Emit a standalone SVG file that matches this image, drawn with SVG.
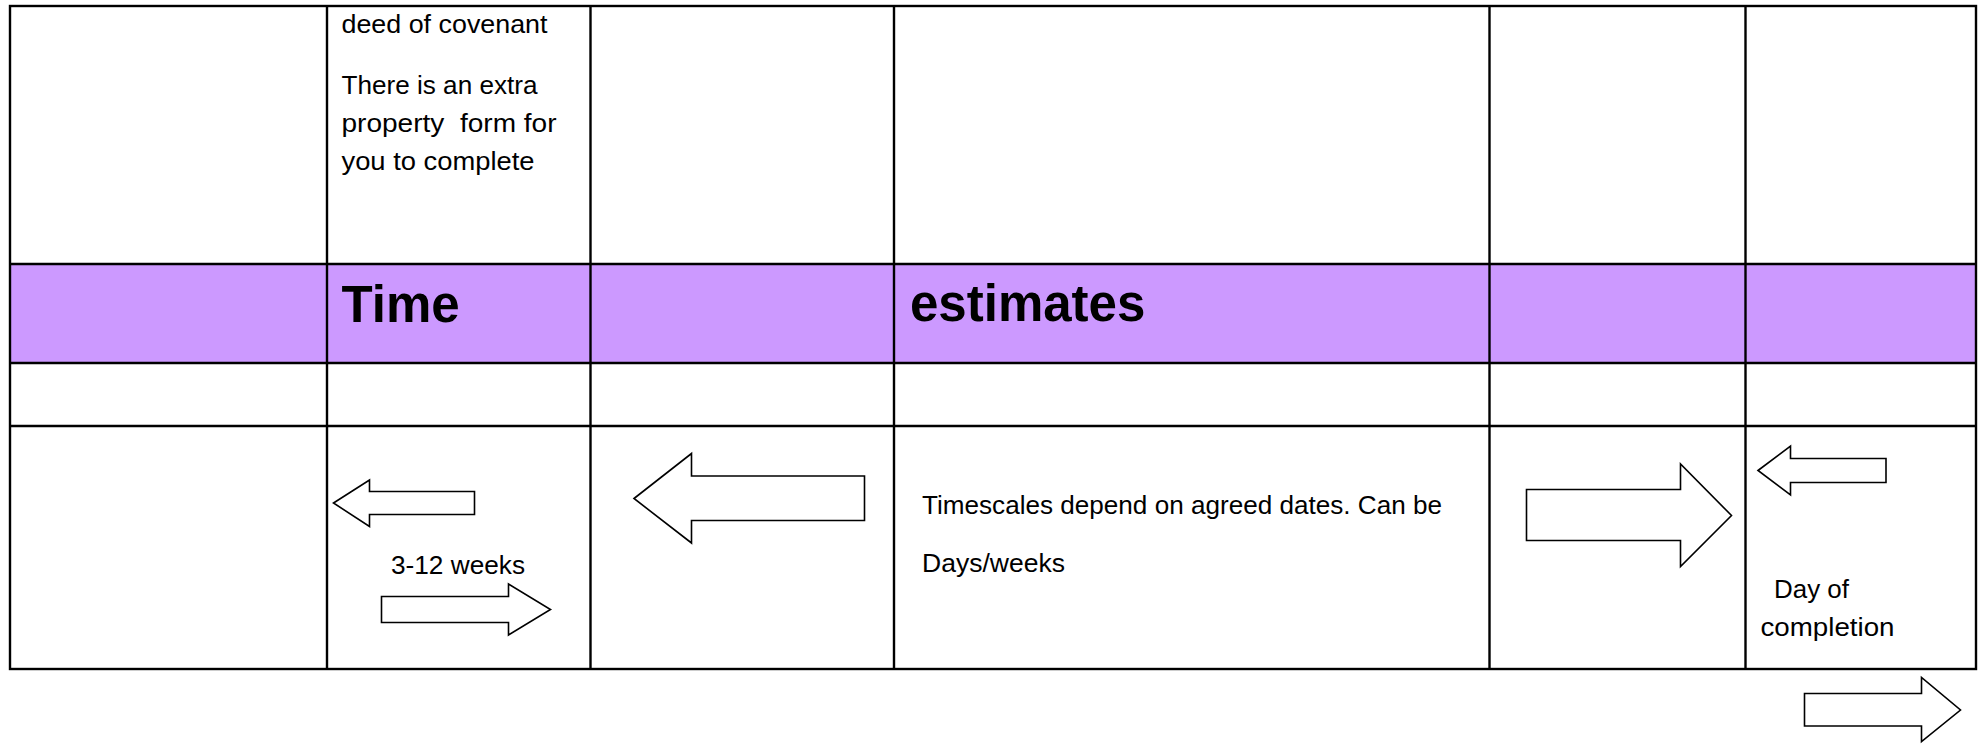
<svg xmlns="http://www.w3.org/2000/svg" width="1986" height="744" viewBox="0 0 1986 744">
<style>
.grid{stroke:#000;stroke-width:2.4;fill:none}
.band{fill:#CC99FF}
.txt{font-family:"Liberation Sans",Arial,sans-serif;font-size:25.5px;fill:#000}
.big{font-family:"Liberation Sans",Arial,sans-serif;font-size:51px;font-weight:bold;fill:#000}
.arrow{fill:#fff;stroke:#000;stroke-width:1.6;stroke-linejoin:miter}
</style>
<rect x="0" y="0" width="1986" height="744" fill="#fff"/>
<g id="table">
<rect class="band" x="10" y="264" width="1966" height="99"/>
<rect class="grid" x="10" y="6" width="1966" height="663"/>
<line class="grid" x1="10" y1="264" x2="1976" y2="264"/>
<line class="grid" x1="10" y1="363" x2="1976" y2="363"/>
<line class="grid" x1="10" y1="426" x2="1976" y2="426"/>
<line class="grid" x1="327" y1="6" x2="327" y2="669"/>
<line class="grid" x1="590.5" y1="6" x2="590.5" y2="669"/>
<line class="grid" x1="894" y1="6" x2="894" y2="669"/>
<line class="grid" x1="1489.5" y1="6" x2="1489.5" y2="669"/>
<line class="grid" x1="1745.5" y1="6" x2="1745.5" y2="669"/>
</g>
<g id="cell-notes">
<text class="txt" x="341.5" y="33" textLength="206" lengthAdjust="spacingAndGlyphs">deed of covenant</text>
<text class="txt" x="341.5" y="94" textLength="196" lengthAdjust="spacingAndGlyphs">There is an extra</text>
<text class="txt" x="341.5" y="132" xml:space="preserve" textLength="215" lengthAdjust="spacingAndGlyphs">property  form for</text>
<text class="txt" x="341.5" y="170" textLength="193" lengthAdjust="spacingAndGlyphs">you to complete</text>
</g>
<g id="heading">
<text class="big" x="341.5" y="322">Time</text>
<text class="big" x="910" y="321">estimates</text>
</g>
<g id="cell-weeks">
<text class="txt" x="391" y="574" textLength="134" lengthAdjust="spacingAndGlyphs">3-12 weeks</text>
</g>
<g id="cell-timescales">
<text class="txt" x="922" y="514" textLength="520" lengthAdjust="spacingAndGlyphs">Timescales depend on agreed dates. Can be</text>
<text class="txt" x="922" y="572" textLength="143" lengthAdjust="spacingAndGlyphs">Days/weeks</text>
</g>
<g id="cell-completion">
<text class="txt" x="1774" y="598" textLength="75" lengthAdjust="spacingAndGlyphs">Day of</text>
<text class="txt" x="1760.5" y="636" textLength="134" lengthAdjust="spacingAndGlyphs">completion</text>
</g>
<g id="connectors">
<polygon class="arrow" points="333.5,503 369.5,480 369.5,491.5 474.5,491.5 474.5,514.5 369.5,514.5 369.5,526.5"/>
<polygon class="arrow" points="381.5,596.5 508.5,596.5 508.5,584 550.5,609.5 508.5,635 508.5,622.5 381.5,622.5"/>
<polygon class="arrow" points="634,498.5 691.5,453.5 691.5,476 864.5,476 864.5,520.5 691.5,520.5 691.5,543"/>
<polygon class="arrow" points="1526.5,489.5 1680.5,489.5 1680.5,464 1731.5,515.5 1680.5,566.5 1680.5,540.5 1526.5,540.5"/>
<polygon class="arrow" points="1758,470.5 1790.5,446 1790.5,458.5 1886,458.5 1886,482.5 1790.5,482.5 1790.5,495"/>
<polygon class="arrow" points="1804.5,693.5 1921.5,693.5 1921.5,677.5 1960.5,710 1921.5,741.5 1921.5,726 1804.5,726"/>
</g>
</svg>
